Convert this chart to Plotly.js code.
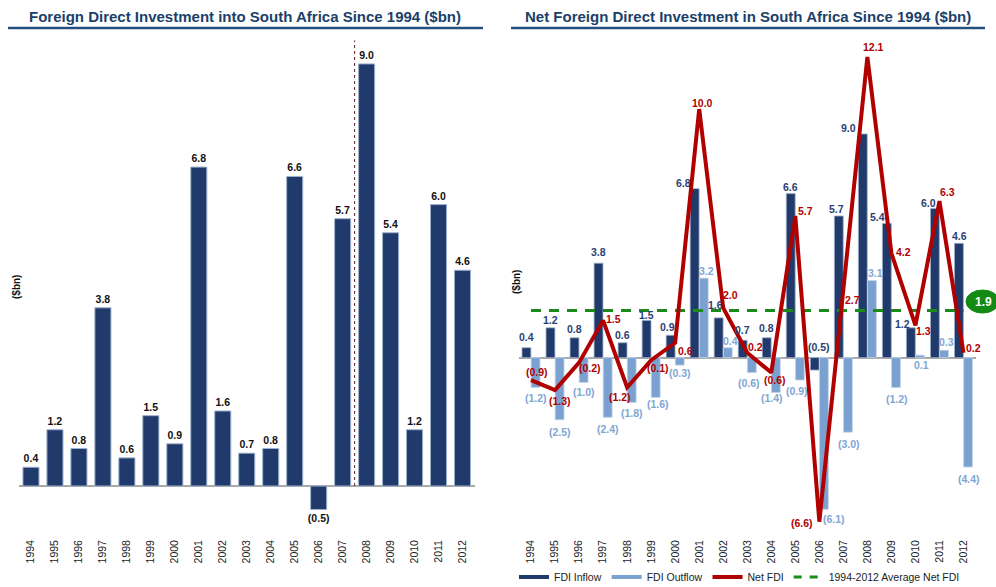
<!DOCTYPE html>
<html>
<head>
<meta charset="utf-8">
<script src="https://cdn.plot.ly/plotly-3.0.1.min.js"></script>
<style>html,body{margin:0;padding:0;background:#fff;}#chart{width:996px;height:587px;}</style>
</head>
<body>
<div id="chart"></div>
<script>
// ---- data ----
const years = ['1994','1995','1996','1997','1998','1999','2000','2001','2002','2003','2004','2005','2006','2007','2008','2009','2010','2011','2012'];
const fdiInflow = [0.4,1.2,0.8,3.8,0.6,1.5,0.9,6.8,1.6,0.7,0.8,6.6,-0.5,5.7,9.0,5.4,1.2,6.0,4.6];
const fdiOutflow = [-1.2,-2.5,-1.0,-2.4,-1.8,-1.6,-0.3,3.2,0.4,-0.6,-1.4,-0.9,-6.1,-3.0,3.1,-1.2,0.1,0.3,-4.4];
const netFdi = [-0.9,-1.3,-0.2,1.5,-1.2,-0.1,0.6,10.0,2.0,0.2,-0.6,5.7,-6.6,2.7,12.1,4.2,1.3,6.3,0.2];
const avgNetFdi = 1.9;

// ---- label placement styles (pixel offsets of each label from its mark) ----
const inDx  = [0,0,0,0,0,0,-3,-11,-3,0,0,0,4.5,-2,-14,-9,-8,-6,1];
const inDy  = [-11,-8,-9,-11,-8,-5,-8,-6,-13,-10,-10,-7,-11,-7,-6,-6,-4,-6,-7];
const outDx = [0,0,0,0,0,2.5,0,3,2.5,-3,-4,-3,10,1,3.5,1,2,3,1];
const outDy = [10.5,12,9,12,10.5,7,8,-7,-7,10,6,10.5,10,12,-8,12,10,-8,12];
const netDx = [6,5,11,10,-7,7,10,3,7,8,4,10,-17,9,6,12,8,8,10];
const netDy = [-8,11,5,-1,9.5,8,8,-6,-13,-6,7.5,-5,1,9.5,-10,-1,5.5,-9,-5];

const fmt = v => v < 0 ? '(' + Math.abs(v).toFixed(1) + ')' : v.toFixed(1);
const FONT = 'Liberation Sans, Arial, sans-serif';
const NAVY = '#203a6b';
const LIGHT = '#7aa1cf';
const RED = '#b00000';
const GREEN = '#1a8a1a';
const TITLE = '#1b3f6b';
const LBL = 10.5;

const traces = [
  {
    type:'bar', x: years, y: fdiInflow, xaxis:'x', yaxis:'y',
    width:0.67, marker:{color:NAVY, line:{color:'#9fb0cc', width:1}},
    text: fdiInflow.map(fmt), textposition:'outside', constraintext:'none', cliponaxis:false,
    textangle:0, textfont:{family:FONT, size:LBL, color:'#111', weight:'bold'},
    hoverinfo:'skip', showlegend:false
  },
  {
    type:'bar', x: years, y: fdiInflow, xaxis:'x2', yaxis:'y2',
    width:0.37, offset:-0.375, marker:{color:NAVY, line:{color:'#9fb0cc', width:0.8}},
    hoverinfo:'skip', showlegend:false
  },
  {
    type:'bar', x: years, y: fdiOutflow, xaxis:'x2', yaxis:'y2',
    width:0.37, offset:0.005, marker:{color:LIGHT, line:{color:'#c5d5ea', width:0.8}},
    hoverinfo:'skip', showlegend:false
  },
  {
    type:'scatter', mode:'lines', x: years, y: years.map(()=>avgNetFdi), xaxis:'x2', yaxis:'y2',
    line:{color:GREEN, width:3, dash:'10px,8px'}, hoverinfo:'skip', showlegend:false, cliponaxis:false
  },
  {
    type:'scatter', mode:'lines', x: years, y: netFdi, xaxis:'x2', yaxis:'y2',
    line:{color:RED, width:4}, cliponaxis:false, hoverinfo:'skip', showlegend:false
  },
  // legend-only entries
  {type:'scatter', mode:'lines', x:[null], y:[null], xaxis:'x2', yaxis:'y2', name:'FDI Inflow', line:{color:NAVY, width:4}},
  {type:'scatter', mode:'lines', x:[null], y:[null], xaxis:'x2', yaxis:'y2', name:'FDI Outflow', line:{color:LIGHT, width:4}},
  {type:'scatter', mode:'lines', x:[null], y:[null], xaxis:'x2', yaxis:'y2', name:'Net FDI', line:{color:RED, width:4}},
  {type:'scatter', mode:'lines', x:[null], y:[null], xaxis:'x2', yaxis:'y2', name:'1994-2012 Average Net FDI', line:{color:GREEN, width:3, dash:'8px,8px'}}
];

const W = 996, H = 587;
const px = v => v / W;
const py = v => 1 - v / H;

const axisX = {
  type:'category', showgrid:false, zeroline:false, showline:false, ticks:'', range:[-0.5, 18.5],
  tickangle:-90, tickfont:{family:FONT, size:10.5, color:'#222'}, fixedrange:true, automargin:false
};
const axisY = {
  showgrid:false, showticklabels:false, ticks:'', showline:false, automargin:false,
  zeroline:true, zerolinecolor:'#a9a9a9', zerolinewidth:2, fixedrange:true
};

const annotations = [
  {text:'Foreign Direct Investment into South Africa Since 1994 ($bn)', xref:'paper', yref:'paper', x:px(245), y:py(16), xanchor:'center', yanchor:'middle', showarrow:false, font:{family:FONT, size:15, color:TITLE, weight:'bold'}},
  {text:'Net Foreign Direct Investment in South Africa Since 1994 ($bn)', xref:'paper', yref:'paper', x:px(748), y:py(16), xanchor:'center', yanchor:'middle', showarrow:false, font:{family:FONT, size:15, color:TITLE, weight:'bold'}},
  {text:'($bn)', xref:'paper', yref:'paper', x:px(16), y:py(287), textangle:-90, xanchor:'center', yanchor:'middle', showarrow:false, font:{family:FONT, size:10, color:'#111', weight:'bold'}},
  {text:'($bn)', xref:'paper', yref:'paper', x:px(517), y:py(282), textangle:-90, xanchor:'center', yanchor:'middle', showarrow:false, font:{family:FONT, size:10, color:'#111', weight:'bold'}},
  {text:avgNetFdi.toFixed(1), xref:'paper', yref:'paper', x:px(983), y:py(301.5), xanchor:'center', yanchor:'middle', showarrow:false, font:{family:FONT, size:12, color:'#fff', weight:'bold'}}
];

// category index i is the position of years[i] on the category axis
years.forEach((yr, i) => {
  const vi = fdiInflow[i];
  annotations.push({text:fmt(vi), xref:'x2', yref:'y2', x:i, y:Math.max(vi, 0), xshift:-4.5 + inDx[i], yshift:-inDy[i],
    xanchor:'center', yanchor:'middle', showarrow:false, font:{family:FONT, size:LBL, color:'#2b3f73', weight:'bold'}});
  const vo = fdiOutflow[i];
  annotations.push({text:fmt(vo), xref:'x2', yref:'y2', x:i, y:vo, xshift:4.5 + outDx[i], yshift:-outDy[i],
    xanchor:'center', yanchor:'middle', showarrow:false, font:{family:FONT, size:LBL, color:'#80a6d3', weight:'bold'}});
  const vn = netFdi[i];
  annotations.push({text:fmt(vn), xref:'x2', yref:'y2', x:i, y:vn, xshift:netDx[i], yshift:-netDy[i],
    xanchor:'center', yanchor:'middle', showarrow:false, font:{family:FONT, size:LBL, color:RED, weight:'bold'}});
});

const layout = {
  width:W, height:H, margin:{l:0, r:0, t:0, b:0, pad:0, autoexpand:false},
  paper_bgcolor:'#fff', plot_bgcolor:'rgba(0,0,0,0)',
  barmode:'overlay',
  font:{family:FONT},
  xaxis: Object.assign({}, axisX, {domain:[px(19), px(474.5)], anchor:'y'}),
  yaxis: Object.assign({}, axisY, {domain:[py(537), py(40)], range:[-1.087, 9.51], anchor:'x'}),
  xaxis2: Object.assign({}, axisX, {domain:[px(519), px(975.5)], anchor:'y2'}),
  yaxis2: Object.assign({}, axisY, {domain:[py(537), py(40)], range:[-7.215, 12.78], anchor:'x2'}),
  showlegend:true,
  legend:{orientation:'h', x:px(514), y:py(577), xanchor:'left', yanchor:'middle',
          font:{family:FONT, size:10.5, color:'#222'}, bgcolor:'rgba(0,0,0,0)', itemwidth:30, traceorder:'normal'},
  shapes:[
    {type:'line', xref:'paper', yref:'paper', x0:px(8), x1:px(483), y0:py(28), y1:py(28), line:{color:'#24507f', width:2.5}},
    {type:'line', xref:'paper', yref:'paper', x0:px(511), x1:px(985), y0:py(28), y1:py(28), line:{color:'#24507f', width:2.5}},
    {type:'line', xref:'x', yref:'y', x0:13.5, x1:13.5, y0:0, y1:9.5, line:{color:'#5a2020', width:1, dash:'dot'}},
    {type:'circle', xref:'paper', yref:'paper', x0:px(966), x1:px(999), y0:py(313), y1:py(290), fillcolor:'#138a13', line:{color:'#138a13', width:1}}
  ],
  annotations: annotations
};

Plotly.newPlot('chart', traces, layout, {staticPlot:true, displayModeBar:false});
</script>
</body>
</html>
